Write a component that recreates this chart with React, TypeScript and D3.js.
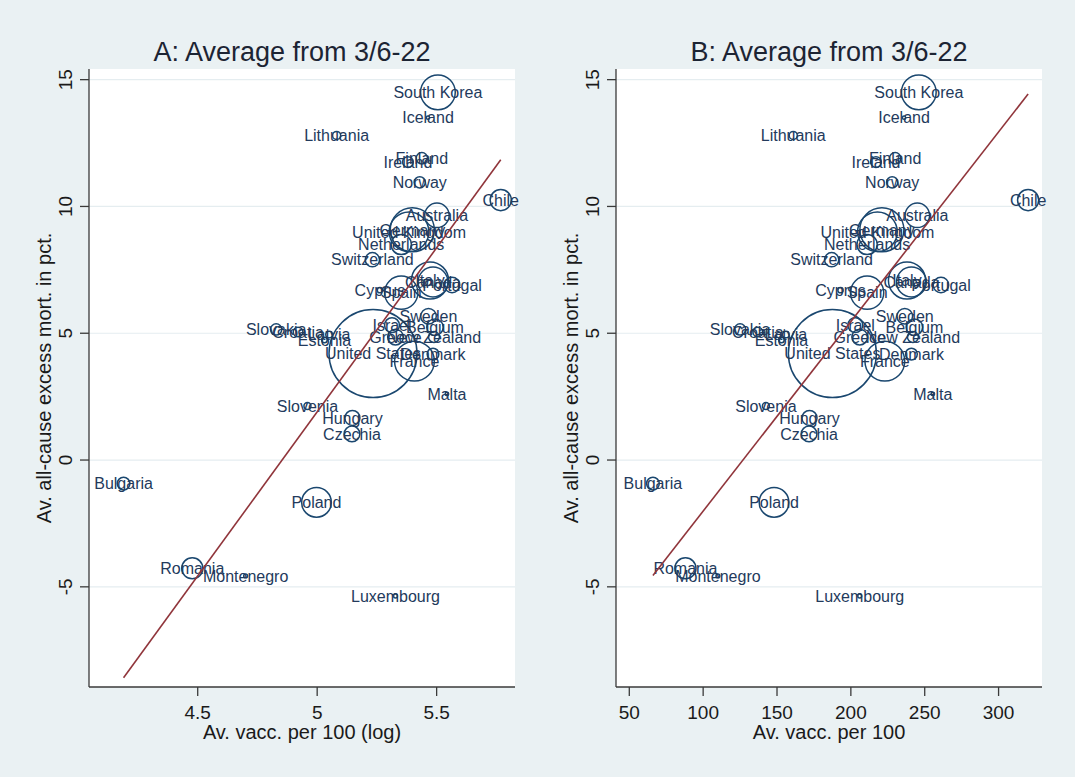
import React from "react";
import * as d3 from "d3";

// ---- data ----
const countries = [
  "South Korea", "Iceland", "Lithuania", "Finland", "Ireland", "Norway", "Chile",
  "Australia", "Germany", "United Kingdom", "Netherlands", "Switzerland", "Italy",
  "Canada", "Portugal", "Spain", "Cyprus", "Sweden", "Belgium", "Israel",
  "New Zealand", "Greece", "Slovakia", "Croatia", "Latvia", "Estonia",
  "United States", "Denmark", "France", "Malta", "Slovenia", "Hungary", "Czechia",
  "Bulgaria", "Poland", "Romania", "Montenegro", "Luxembourg",
];
// average vaccinations per 100
const vacc = [
  246, 236, 161, 230, 217, 228, 320,
  245, 221, 218, 211, 187, 238,
  241, 261, 211, 193, 236.5, 243, 203,
  242, 206, 125, 137, 156, 153,
  187.5, 241, 223, 255.5, 142.5, 172, 171.7,
  66, 148, 88, 110, 206,
];
// average all-cause excess mortality, pct.
const excess = [
  14.5, 13.5, 12.8, 11.9, 11.75, 10.95, 10.25,
  9.65, 9.08, 9.0, 8.5, 7.9, 7.08,
  7.02, 6.9, 6.6, 6.7, 5.67, 5.24, 5.32,
  4.85, 4.85, 5.15, 5.05, 4.95, 4.73,
  4.2, 4.18, 3.9, 2.6, 2.13, 1.66, 1.03,
  -0.93, -1.67, -4.27, -4.57, -5.36,
];
// population, millions (marker weight)
const popM = [
  51.7, 0.37, 2.8, 5.5, 5.0, 5.4, 19.2,
  25.7, 83.2, 67.3, 17.5, 8.7, 59.1,
  38.2, 10.3, 47.4, 1.2, 10.4, 11.6, 9.4,
  5.1, 10.6, 5.4, 4.0, 1.9, 1.3,
  332, 5.9, 67.8, 0.52, 2.1, 9.7, 10.5,
  6.9, 37.8, 19.1, 0.62, 0.64,
];
// linear fit lines (intercept, slope) for panel A (log x) and B (linear x)
const fitIntercept = [-62.8, -9.49];
const fitSlope = [12.94, 0.07476];

const titles = ["A: Average from 3/6-22", "B: Average from 3/6-22"];
const xTitles = ["Av. vacc. per 100 (log)", "Av. vacc. per 100"];
const yTitle = "Av. all-cause excess mort. in pct.";
const xTicksA = [4.5, 5, 5.5];
const xTicksB = [50, 100, 150, 200, 250, 300];
const yTicks = [-5, 0, 5, 10, 15];

// ---- styles ----
const W = 1075, H = 777;
const BG = "#eaf1f3";
const NAVY = "#1a476f";
const LABEL = "#233a5c";
const MAROON = "#90353b";
const TXT = "#1a1a1a";
const FONT = "'Liberation Sans', Arial, Helvetica, sans-serif";

const TOP = 69, BOTTOM = 687;
const yScale = d3.scaleLinear().domain([-8.95, 15.42]).range([BOTTOM, TOP]);
const rScale = d3.scaleSqrt().domain([0, 332]).range([0, 44]);

type PanelProps = {
  idx: number;
  left: number;
  right: number;
  xDomain: [number, number];
  xTicks: number[];
  titleX: number;
};

function Panel({ idx, left, right, xDomain, xTicks, titleX }: PanelProps) {
  const x = d3.scaleLinear().domain(xDomain).range([left, right]);
  const xv = vacc.map((v) => (idx === 0 ? Math.log(v) : v));
  const pts = countries.map((c, i) => ({ c, x: xv[i], y: excess[i], r: rScale(popM[i]) }));
  const [xmin, xmax] = d3.extent(xv) as [number, number];
  const fit = (t: number) => fitIntercept[idx] + fitSlope[idx] * t;
  const line = d3.line<number>().x((t) => x(t)).y((t) => yScale(fit(t)));
  const yAxisX = left;
  return (
    <g>
      <rect x={left} y={TOP} width={right - left} height={BOTTOM - TOP} fill="#ffffff" />
      {yTicks.map((t) => (
        <line key={"g" + t} x1={left} x2={right} y1={yScale(t)} y2={yScale(t)} stroke="#e5edf0" strokeWidth={1.2} />
      ))}
      {/* axes */}
      <line x1={yAxisX} x2={yAxisX} y1={TOP} y2={BOTTOM} stroke="#3a3a3a" strokeWidth={1.3} />
      <line x1={left} x2={right} y1={BOTTOM} y2={BOTTOM} stroke="#3a3a3a" strokeWidth={1.3} />
      {yTicks.map((t) => (
        <g key={"yt" + t}>
          <line x1={yAxisX - 9} x2={yAxisX} y1={yScale(t)} y2={yScale(t)} stroke="#3a3a3a" strokeWidth={1.3} />
          <text
            transform={`translate(${yAxisX - 17},${yScale(t)}) rotate(-90)`}
            textAnchor="middle"
            fontSize={19}
            fill={TXT}
            fontFamily={FONT}
          >
            {t}
          </text>
        </g>
      ))}
      {xTicks.map((t) => (
        <g key={"xt" + t}>
          <line x1={x(t)} x2={x(t)} y1={BOTTOM} y2={BOTTOM + 9} stroke="#3a3a3a" strokeWidth={1.3} />
          <text x={x(t)} y={719} textAnchor="middle" fontSize={19} fill={TXT} fontFamily={FONT}>
            {t}
          </text>
        </g>
      ))}
      <text x={(left + right) / 2} y={739} textAnchor="middle" fontSize={20} fill={TXT} fontFamily={FONT}>
        {xTitles[idx]}
      </text>
      <text
        transform={`translate(${yAxisX - 38},${(TOP + BOTTOM) / 2}) rotate(-90)`}
        textAnchor="middle"
        fontSize={20}
        fill={TXT}
        fontFamily={FONT}
      >
        {yTitle}
      </text>
      <text x={titleX} y={61} textAnchor="middle" fontSize={27} fill="#1c2433" fontFamily={FONT}>
        {titles[idx]}
      </text>
      {/* markers */}
      {pts.map((p) => (
        <circle key={"c" + p.c} cx={x(p.x)} cy={yScale(p.y)} r={Math.max(p.r, 1.6)} fill="none" stroke={NAVY} strokeWidth={1.5} />
      ))}
      {pts.map((p) => (
        <text
          key={"l" + p.c}
          x={x(p.x)}
          y={yScale(p.y)}
          dy="0.36em"
          textAnchor="middle"
          fontSize={16}
          fill={LABEL}
          fontFamily={FONT}
        >
          {p.c}
        </text>
      ))}
      <path d={line([xmin, xmax]) || ""} fill="none" stroke={MAROON} strokeWidth={1.6} />
    </g>
  );
}

export default function App() {
  return (
    <svg
      width={W}
      height={H}
      viewBox={`0 0 ${W} ${H}`}
      style={{ position: "fixed", left: 0, top: 0, display: "block" }}
    >
      <rect x={0} y={0} width={W} height={H} fill={BG} />
      <Panel idx={0} left={89} right={515} xDomain={[4.045, 5.828]} xTicks={xTicksA} titleX={292} />
      <Panel idx={1} left={616} right={1042} xDomain={[41, 329.4]} xTicks={xTicksB} titleX={829} />
    </svg>
  );
}
